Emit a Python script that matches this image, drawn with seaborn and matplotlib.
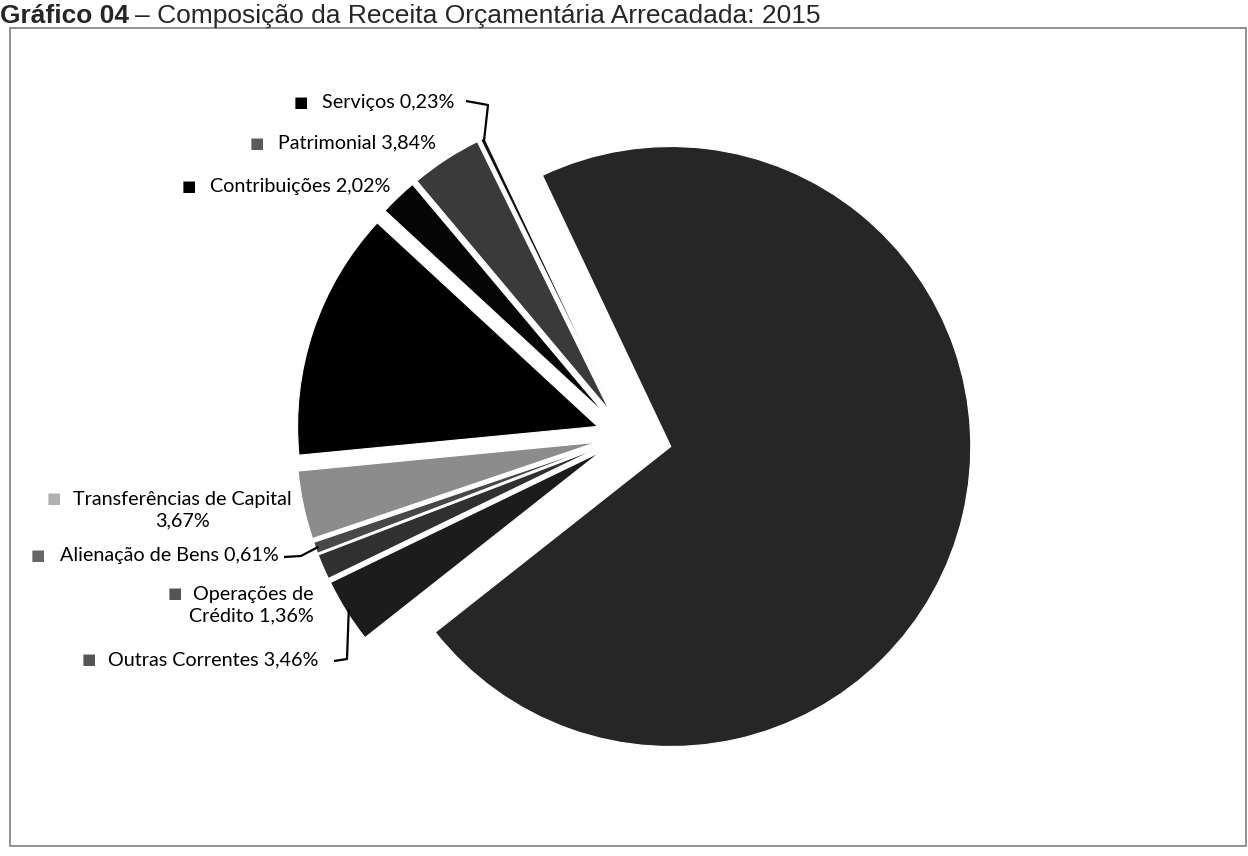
import matplotlib
matplotlib.use("Agg")
import numpy as np
import seaborn as sns
import matplotlib.pyplot as plt
from matplotlib.patches import Rectangle

sns.set_theme(style="white")
plt.rcParams['font.family'] = ['Lato', 'DejaVu Sans']

# receita arrecadada 2015, % do total (ordem do Excel, sentido horario)
categorias = ["Tributária", "Contribuições", "Patrimonial", "Serviços",
              "Transferências Correntes", "Outras Correntes",
              "Operações de Crédito", "Alienação de Bens",
              "Transferências de Capital"]
valores = [13.40, 2.02, 3.84, 0.23, 71.41, 3.46, 1.36, 0.61, 3.67]
rotulos = ["", "Contribuições 2,02%", "Patrimonial 3,84%", "Serviços 0,23%",
           "", "Outras Correntes 3,46%", "Operações de\nCrédito 1,36%",
           "Alienação de Bens 0,61%", "Transferências de Capital\n3,67%"]

cores = ["#000000", "#050505", "#3a3a3a", "#111111", "#262626",
         "#1c1c1c", "#303030", "#484848", "#8c8c8c"]
cores_marca = ["#000000", "#000000", "#5a5a5a", "#000000", "#262626",
               "#555555", "#555555", "#666666", "#b0b0b0"]

W, H = 1248, 856
fig = plt.figure(figsize=(W / 100, H / 100), dpi=100)
ax = fig.add_axes([0, 0, 1, 1])

R = 300
explode = [30, 30, 30, 30, 46, 30, 30, 30, 30]
wedges, _ = ax.pie(valores, colors=cores, explode=explode, radius=R,
                   center=(626, H - 436), startangle=185.5, counterclock=False,
                   wedgeprops=dict(edgecolor="white", linewidth=0.8), frame=True)
ax.set_xlim(0, W)
ax.set_ylim(0, H)
ax.set_aspect("equal")
ax.axis("off")


def ponta(i, f=1.0):
    w = wedges[i]
    t = np.deg2rad((w.theta1 + w.theta2) / 2)
    cx, cy = w.center
    return cx + f * w.r * np.cos(t), cy + f * w.r * np.sin(t)


def rotulo(i, x, y, ha="left", quad=None):
    # y em pixels a partir do topo
    ax.text(x, H - y, rotulos[i], ha=ha, va="center", fontsize=14.2,
            color="black", linespacing=1.35, multialignment=ha)
    if quad is not None:
        ax.text(quad[0], H - quad[1], "■", ha="left", va="center", fontsize=11,
                family="DejaVu Sans", color=cores_marca[i])


rotulo(3, 322, 102, quad=(294, 102))
rotulo(2, 278, 143, quad=(250, 143))
rotulo(1, 210, 186, quad=(182, 186))
rotulo(8, 182, 510, ha="center", quad=(47, 498))
rotulo(7, 60, 555, quad=(31, 555))
rotulo(6, 314, 605, ha="right", quad=(168, 593))
rotulo(5, 108, 660, quad=(82, 660))

# linhas de chamada
linhas = [(3, [(466, 101), (488, 105)]),
          (7, [(284, 557), (301, 556)]),
          (5, [(334, 661), (347, 659)])]
for i, pts in linhas:
    px, py = ponta(i, 0.99)
    xs = [p[0] for p in pts] + [px]
    ys = [H - p[1] for p in pts] + [py]
    ax.plot(xs, ys, color="black", lw=1.6, solid_capstyle="butt")

# moldura
ax.add_patch(Rectangle((10, H - 846), 1236, 818, fill=False,
                       edgecolor="#808080", lw=1.2))

# titulo
fam_t = ["Liberation Sans Narrow", "Liberation Sans"]
t1 = ax.text(0, H - 23, "Gráfico 04", fontsize=19, fontweight="bold",
             family=fam_t, va="baseline")
fig.canvas.draw()
bb = t1.get_window_extent()
ax.text(bb.x1 + 6, H - 23,
        "– Composição da Receita Orçamentária Arrecadada: 2015", fontsize=19,
        family=fam_t, va="baseline")

fig.savefig("out.png", dpi=100, facecolor="white")
